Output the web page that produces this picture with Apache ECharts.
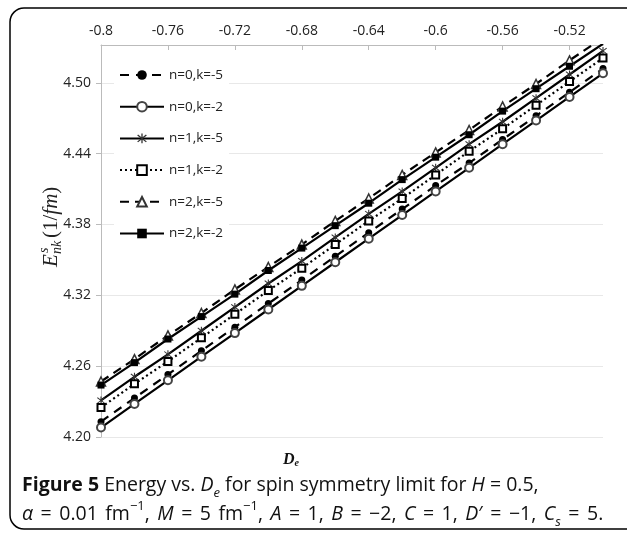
<!DOCTYPE html>
<html><head><meta charset="utf-8">
<script src="https://cdn.jsdelivr.net/npm/echarts@6/dist/echarts.min.js"></script>
<style>html,body{margin:0;padding:0;background:#fff}#c{width:627px;height:535px}</style>
</head><body><div id="c"></div>
<script>
const De = [-0.8, -0.78, -0.76, -0.74, -0.72, -0.7, -0.68, -0.66, -0.64, -0.62, -0.6, -0.58, -0.56, -0.54, -0.52, -0.5];
const n0k5 = [4.213, 4.233, 4.253, 4.273, 4.293, 4.313, 4.333, 4.353, 4.373, 4.393, 4.413, 4.432, 4.452, 4.472, 4.492, 4.512];
const n0k2 = [4.208, 4.228, 4.248, 4.268, 4.288, 4.308, 4.328, 4.348, 4.368, 4.388, 4.408, 4.428, 4.448, 4.468, 4.488, 4.508];
const n1k5 = [4.231, 4.251, 4.270, 4.290, 4.310, 4.330, 4.349, 4.369, 4.389, 4.408, 4.428, 4.448, 4.467, 4.487, 4.507, 4.527];
const n1k2 = [4.225, 4.245, 4.264, 4.284, 4.304, 4.324, 4.343, 4.363, 4.383, 4.402, 4.422, 4.442, 4.461, 4.481, 4.501, 4.521];
const n2k5 = [4.247, 4.266, 4.286, 4.305, 4.325, 4.344, 4.363, 4.383, 4.402, 4.422, 4.441, 4.460, 4.480, 4.499, 4.519, 4.538];
const n2k2 = [4.244, 4.263, 4.283, 4.302, 4.321, 4.341, 4.360, 4.379, 4.398, 4.418, 4.437, 4.456, 4.476, 4.495, 4.514, 4.533];
const names = ['n=0,k=-5', 'n=0,k=-2', 'n=1,k=-5', 'n=1,k=-2', 'n=2,k=-5', 'n=2,k=-2'];
const xTicks = [-0.8, -0.76, -0.72, -0.68, -0.64, -0.6, -0.56, -0.52];
const yTicks = [4.20, 4.26, 4.32, 4.38, 4.44, 4.50];

const chart = echarts.init(document.getElementById('c'), null, {renderer: 'canvas'});
const pair = arr => De.map((x, i) => [x, arr[i]]);
const star = 'path://M4.4 0 L5.6 0 L5.6 10 L4.4 10 Z M0.6 1.9 L1.4 1.0 L9.4 8.1 L8.6 9.0 Z M8.6 1.0 L9.4 1.9 L1.4 9.0 L0.6 8.1 Z';
const base = {type: 'line', clip: true, animation: false, smooth: false};
const series = [
  Object.assign({}, base, {name: names[0], data: pair(n0k5), symbol: 'circle', symbolSize: 7,
    itemStyle: {color: '#000'}, lineStyle: {color: '#000', width: 2.2, type: [9, 7]}}),
  Object.assign({}, base, {name: names[1], data: pair(n0k2), symbol: 'circle', symbolSize: 8,
    itemStyle: {color: '#fff', borderColor: '#444', borderWidth: 2}, lineStyle: {color: '#000', width: 2.2}}),
  Object.assign({}, base, {name: names[2], data: pair(n1k5), symbol: star, symbolSize: 8,
    itemStyle: {color: '#333'}, lineStyle: {color: '#000', width: 2.2}}),
  Object.assign({}, base, {name: names[3], data: pair(n1k2), symbol: 'rect', symbolSize: 7,
    itemStyle: {color: '#fff', borderColor: '#000', borderWidth: 2}, lineStyle: {color: '#000', width: 2.2, type: [2, 3]}}),
  Object.assign({}, base, {name: names[4], data: pair(n2k5), symbol: 'triangle', symbolSize: 9,
    itemStyle: {color: '#fff', borderColor: '#333', borderWidth: 1.5}, lineStyle: {color: '#000', width: 2.2, type: [9, 6]}}),
  Object.assign({}, base, {name: names[5], data: pair(n2k2), symbol: 'rect', symbolSize: 7,
    itemStyle: {color: '#000'}, lineStyle: {color: '#000', width: 2.2}})
];

const lab = {fontFamily: 'Open Sans', fontSize: 14, color: '#222'};
const line1 = '{b|Figure 5} Energy vs. {i|D}{sub|e} for spin symmetry limit for {i|H} = 0.5,';
const line2 = '{i|α} = 0.01 fm{sup|−1}, {i|M} = 5 fm{sup|−1}, {i|A} = 1, {i|B} = −2, {i|C} = 1, {i|D}′ = −1, {i|C}{sub|s} = 5.';
// widen spaces in the second caption line
const line2w = line2.split(/(\{[^}]*\})/).map(p => p.startsWith('{') ? p : p.replace(/ /g, '{sp| }')).join('');
chart.setOption({
  animation: false,
  backgroundColor: '#fff',
  grid: {left: 101, right: 24, top: 45, bottom: 98, containLabel: false},
  xAxis: {
    type: 'value', position: 'top', min: -0.8, max: -0.5,
    axisLine: {show: true, lineStyle: {color: '#bbb', width: 1}},
    axisTick: {show: true, inside: true, length: 5, lineStyle: {color: '#bbb'}, customValues: xTicks},
    axisLabel: Object.assign({margin: 7, customValues: xTicks, formatter: v => String(v)}, lab),
    splitLine: {show: false}
  },
  yAxis: {
    type: 'value', min: 4.2, max: 4.532, interval: 0.06,
    axisLine: {show: true, lineStyle: {color: '#bbb', width: 1}},
    axisTick: {show: true, length: 5, lineStyle: {color: '#bbb'}, customValues: yTicks},
    axisLabel: Object.assign({margin: 10, customValues: yTicks, formatter: v => v.toFixed(2)}, lab),
    splitLine: {show: true, lineStyle: {color: '#e8e8e8', width: 1}}
  },
  legend: {
    orient: 'vertical', left: 114, top: 63, itemWidth: 44, itemHeight: 12, itemGap: 17.7,
    padding: [5, 6, 5, 5], backgroundColor: '#fff',
    textStyle: {fontFamily: 'Open Sans', fontSize: 13.5, color: '#222'},
    data: names
  },
  series: series,
  graphic: [
    {type: 'rect', shape: {x: 10, y: 8, width: 640, height: 521, r: 14},
      style: {fill: 'none', stroke: '#000', lineWidth: 1.5}, z: 100},
    {type: 'group', x: 51, y: 267, rotation: Math.PI / 2, z: 100, children: [
      {type: 'text', x: 0, y: 0, style: {text: 'E', font: 'italic 21px "Liberation Serif"', fill: '#222', verticalAlign: 'middle'}},
      {type: 'text', x: 14, y: -7, style: {text: 's', font: 'italic 14px "Liberation Serif"', fill: '#222', verticalAlign: 'middle'}},
      {type: 'text', x: 13, y: 6, style: {text: 'nk', font: 'italic 14px "Liberation Serif"', fill: '#222', verticalAlign: 'middle'}},
      {type: 'text', x: 29, y: 0, style: {text: '{u|(1/}{i|fm}{u|)}', verticalAlign: 'middle',
        rich: {u: {font: '21px "Liberation Serif"', fill: '#222'}, i: {font: 'italic 21px "Liberation Serif"', fill: '#222'}}}}
    ]},
    {type: 'text', x: 283, y: 452, z: 100, style: {text: '{d|D}{s|e}', rich: {
      d: {font: 'bold italic 16px "Liberation Serif"', fill: '#111', verticalAlign: 'bottom'},
      s: {font: 'bold italic 10px "Liberation Serif"', fill: '#111', verticalAlign: 'bottom'}}}},
    {type: 'text', x: 22, y: 471, z: 100, style: {
      text: line1 + '\n' + line2w,
      font: '19.5px "Open Sans"', fill: '#111', lineHeight: 29,
      rich: {
        b: {font: 'bold 19.5px "Open Sans"', fill: '#111', lineHeight: 29},
        i: {font: 'italic 19.5px "Open Sans"', fill: '#111', lineHeight: 29},
        sp: {font: '19.5px "Open Sans"', width: 7.5, lineHeight: 29},
        sub: {font: 'italic 13px "Open Sans"', fill: '#111', verticalAlign: 'bottom', lineHeight: 29, padding: [10, 0, 0, 0]},
        sup: {font: '13px "Open Sans"', fill: '#111', verticalAlign: 'top', lineHeight: 29, padding: [0, 0, 10, 0]}
      }}}
  ]
});
</script></body></html>
